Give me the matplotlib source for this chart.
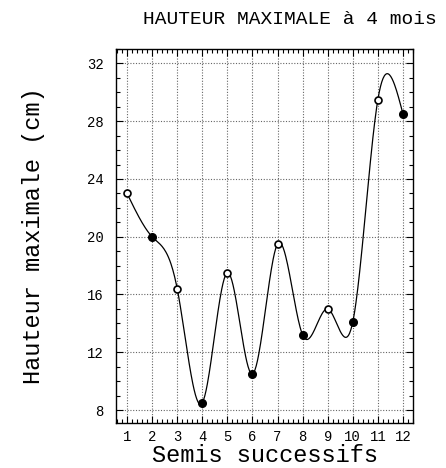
import numpy as np
import matplotlib
matplotlib.use("Agg")
import matplotlib.pyplot as plt
from matplotlib.ticker import MultipleLocator

semis = [1, 2, 3, 4, 5, 6, 7, 8, 9, 10, 11, 12]
hauteur = [23.0, 20.0, 16.4, 8.5, 17.5, 10.5, 19.5, 13.2, 15.0, 14.1, 29.5, 28.5]
# open (True) / filled (False) markers as in the original
ouvert = [True, False, True, False, True, False, True, False, True, False, True, False]


def natural_spline(x, y, n=40):
    # natural cubic spline, just to draw the smooth line through the points
    x = np.asarray(x, float)
    y = np.asarray(y, float)
    k = len(x)
    h = np.diff(x)
    A = np.zeros((k, k))
    b = np.zeros(k)
    A[0, 0] = A[-1, -1] = 1
    for i in range(1, k - 1):
        A[i, i - 1] = h[i - 1]
        A[i, i] = 2 * (h[i - 1] + h[i])
        A[i, i + 1] = h[i]
        b[i] = 6 * ((y[i + 1] - y[i]) / h[i] - (y[i] - y[i - 1]) / h[i - 1])
    M = np.linalg.solve(A, b)
    xs, ys = [], []
    for i in range(k - 1):
        t = np.linspace(x[i], x[i + 1], n, endpoint=(i == k - 2))
        a = x[i + 1] - t
        c = t - x[i]
        s = (M[i] * a**3 + M[i + 1] * c**3) / (6 * h[i]) \
            + (y[i] / h[i] - M[i] * h[i] / 6) * a \
            + (y[i + 1] / h[i] - M[i + 1] * h[i] / 6) * c
        xs.append(t)
        ys.append(s)
    return np.concatenate(xs), np.concatenate(ys)


plt.rcParams["font.family"] = ["Liberation Mono", "DejaVu Sans Mono"]

fig = plt.figure(figsize=(4.46, 4.68), dpi=100)
ax = fig.add_axes([116 / 446, 45 / 468, 297 / 446, 374 / 468])

xs, ys = natural_spline(semis, hauteur)
ax.plot(xs, ys, color="black", lw=0.9, zorder=3)

xo = [x for x, o in zip(semis, ouvert) if o]
yo = [y for y, o in zip(hauteur, ouvert) if o]
xf = [x for x, o in zip(semis, ouvert) if not o]
yf = [y for y, o in zip(hauteur, ouvert) if not o]
ax.plot(xo, yo, "o", ms=5, mfc="white", mec="black", mew=1.2, zorder=4)
ax.plot(xf, yf, "o", ms=5.5, mfc="black", mec="black", zorder=4)

ax.set_xlim(0.56, 12.4)
ax.set_ylim(7.1, 33)
ax.xaxis.set_major_locator(MultipleLocator(1))
ax.xaxis.set_minor_locator(MultipleLocator(0.2))
ax.yaxis.set_major_locator(MultipleLocator(4))
ax.yaxis.set_minor_locator(MultipleLocator(1))
ax.tick_params(which="both", direction="in", top=True, right=True, width=0.8)
ax.tick_params(which="major", length=5, labelsize=10)
ax.tick_params(axis="x", which="major", pad=5)
ax.tick_params(axis="y", which="major", pad=9)
ax.tick_params(which="minor", length=3)
ax.grid(True, which="major", color="#666666", ls=(0, (1, 1.5)), lw=0.8)
for s in ax.spines.values():
    s.set_linewidth(1.0)

ax.set_xlabel("Semis successifs", fontsize=17, labelpad=0)
ax.set_ylabel("Hauteur maximale (cm)", fontsize=17, labelpad=30)
fig.text(290 / 446, 1 - 20 / 468, "HAUTEUR MAXIMALE à 4 mois",
         fontsize=14, ha="center", va="center")

fig.savefig("out.png", dpi=100)
